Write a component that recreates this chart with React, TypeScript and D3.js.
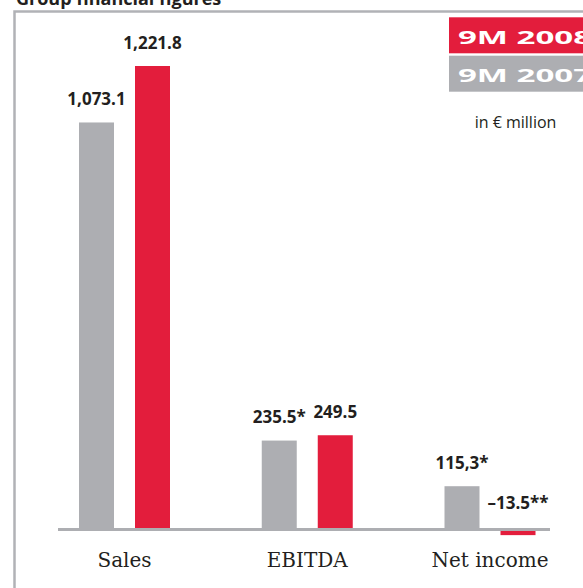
import React from "react";
import * as d3 from "d3";

const categories = ["Sales", "EBITDA", "Net income"];
const seriesKeys = ["9M 2007", "9M 2008"];
const values2007 = [1073.1, 235.5, 115.3];
const values2008 = [1221.8, 249.5, -13.5];
const labels2007 = ["1,073.1", "235.5*", "115,3*"];
const labels2008 = ["1,221.8", "249.5", "–13.5**"];

const RED = "#e31d3c";
const GREY = "#adaeb2";
const TEXT = "#231f20";
const FRAME = "#b1b2b6";

const width = 583;
const height = 588;

const App = () => {
  const x = d3.scalePoint<string>().domain(categories).range([124.5, 490]);
  const inner = d3
    .scaleBand<string>()
    .domain(seriesKeys)
    .range([-45.5, 45.5])
    .paddingInner(0.375);
  const y = d3.scaleLinear().domain([0, 1221.8]).range([530, 66]);

  const series = [
    { key: seriesKeys[0], values: values2007, labels: labels2007, color: GREY },
    { key: seriesKeys[1], values: values2008, labels: labels2008, color: RED },
  ];

  const sans = "'Open Sans', sans-serif";

  return (
    <svg
      width={width}
      height={height}
      style={{ position: "absolute", left: 0, top: 0, background: "white" }}
    >
      {/* title, cut off at the top like in the print */}
      <text x={16} y={4.5} fontFamily={sans} fontWeight={700} fontSize={18} fill={TEXT}>
        Group financial figures
      </text>

      {/* frame */}
      <path
        d={`M14.5,${height} V11.5 H${width}`}
        fill="none"
        stroke={FRAME}
        strokeWidth={2.5}
      />

      {/* legend */}
      <rect x={449} y={17.3} width={140} height={36} fill={RED} />
      <rect x={449} y={55.7} width={140} height={36} fill={GREY} />
      <text
        x={458}
        y={43.5}
        fontFamily={sans}
        fontWeight={700}
        fontSize={18}
        fill="white"
        textLength={134}
        lengthAdjust="spacingAndGlyphs"
      >
        {seriesKeys[1]}
      </text>
      <text
        x={458}
        y={81.5}
        fontFamily={sans}
        fontWeight={700}
        fontSize={18}
        fill="white"
        textLength={134}
        lengthAdjust="spacingAndGlyphs"
      >
        {seriesKeys[0]}
      </text>
      <text x={515.5} y={128} textAnchor="middle" fontFamily={sans} fontSize={16} fill={TEXT}>
        in € million
      </text>

      {/* bars */}
      {series.map((s) =>
        categories.map((c, i) => {
          const v = s.values[i];
          const bx = (x(c) as number) + (inner(s.key) as number);
          const top = Math.min(y(v), y(0));
          const h = Math.abs(y(v) - y(0));
          return (
            <rect
              key={s.key + c}
              x={bx}
              y={top}
              width={inner.bandwidth()}
              height={h}
              fill={s.color}
            />
          );
        })
      )}

      {/* baseline */}
      <line x1={58} x2={550} y1={529.5} y2={529.5} stroke={GREY} strokeWidth={3} />

      {/* value labels */}
      {series.map((s) =>
        categories.map((c, i) => {
          const v = s.values[i];
          const cx = (x(c) as number) + (inner(s.key) as number) + inner.bandwidth() / 2;
          const ly = (v >= 0 ? y(v) : y(0) - 4) - 17.5;
          return (
            <text
              key={"l" + s.key + c}
              x={cx}
              y={ly}
              textAnchor="middle"
              fontFamily={sans}
              fontWeight={700}
              fontSize={17}
              fill={TEXT}
            >
              {s.labels[i]}
            </text>
          );
        })
      )}

      {/* category labels */}
      {categories.map((c) => (
        <text
          key={"c" + c}
          x={x(c)}
          y={567}
          textAnchor="middle"
          fontFamily="'DejaVu Serif', serif"
          fontSize={20}
          fill={TEXT}
        >
          {c}
        </text>
      ))}
    </svg>
  );
};

export default App;
